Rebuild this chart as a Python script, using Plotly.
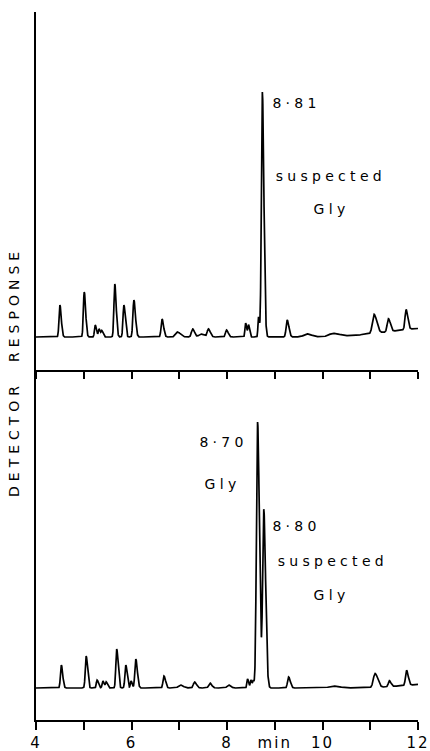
import numpy as np
import plotly.graph_objects as go

# ---- data (retention time in min, peak height in arbitrary units) ----
upper_rt = [4.50, 5.01, 5.24, 5.32, 5.38, 5.65, 5.84, 6.05, 6.64, 6.96, 7.28, 7.45, 7.61, 7.99,
            8.39, 8.45, 8.66, 8.74, 9.26, 9.67, 10.22, 11.08, 11.38, 11.75, 12.30]
upper_h = [32, 45, 12, 8, 6, 53, 32, 37, 18, 5, 8, 3, 8, 7,
           14, 12, 20, 245, 17, 3, 3, 19, 13, 20, 9]
upper_w = [0.018, 0.018, 0.016, 0.016, 0.016, 0.018, 0.018, 0.02, 0.02, 0.04, 0.025, 0.04, 0.025, 0.022,
           0.014, 0.014, 0.012, 0.02, 0.022, 0.06, 0.08, 0.035, 0.025, 0.022, 0.9]

lower_rt = [4.53, 5.05, 5.28, 5.40, 5.47, 5.69, 5.88, 5.99, 6.09, 6.68, 7.02, 7.32, 7.64, 8.03,
            8.43, 8.50, 8.55, 8.64, 8.77, 9.29, 10.22, 11.10, 11.40, 11.76, 12.30]
lower_h = [23, 32, 8, 7, 6, 39, 23, 7, 29, 12, 3, 6, 5, 3,
           9, 8, 7, 266, 178, 11, 2, 14, 6, 15, 4]
lower_w = [0.018, 0.018, 0.016, 0.016, 0.016, 0.018, 0.018, 0.014, 0.02, 0.02, 0.04, 0.025, 0.025, 0.03,
           0.014, 0.014, 0.012, 0.024, 0.024, 0.022, 0.08, 0.035, 0.022, 0.022, 0.6]

x_ticks = [4, 5, 6, 7, 8, 9, 10, 11, 12]
x_tick_text = ["4", "", "6", "", "8", "min", "10", "", "12"]

t = np.linspace(4.0, 12.0, 4001)


def trace_signal(rts, hs, ws):
    y = np.zeros_like(t)
    for rt, h, w in zip(rts, hs, ws):
        s = np.where(t < rt, w, w * 1.6)
        y += h * np.exp(-0.5 * ((t - rt) / s) ** 2)
    return y


fig = go.Figure()
fig.add_trace(go.Scatter(x=t, y=trace_signal(upper_rt, upper_h, upper_w), mode="lines",
                         line=dict(color="black", width=1.7), xaxis="x", yaxis="y",
                         showlegend=False, hoverinfo="skip"))
fig.add_trace(go.Scatter(x=t, y=trace_signal(lower_rt, lower_h, lower_w), mode="lines",
                         line=dict(color="black", width=1.7), xaxis="x2", yaxis="y2",
                         showlegend=False, hoverinfo="skip"))

split = (720 - 370) / 708.0
font = dict(family="DejaVu Sans", size=14, color="black")

axis_common = dict(showline=True, linecolor="black", linewidth=2, showgrid=False, zeroline=False,
                   automargin=False)

fig.update_layout(
    template="none",
    width=430, height=751, autosize=False,
    margin=dict(l=36, r=12, t=12, b=31, pad=0, autoexpand=False),
    paper_bgcolor="white", plot_bgcolor="white",
    font=font,
    xaxis=dict(domain=[0, 1], anchor="y", range=[4, 12], tickvals=x_ticks, ticktext=[""] * 9,
               ticks="outside", ticklen=7, tickwidth=2, tickcolor="black", **axis_common),
    yaxis=dict(domain=[split, 1], anchor="x", range=[-33, 325], showticklabels=False, ticks="",
               **axis_common),
    xaxis2=dict(domain=[0, 1], anchor="y2", range=[4, 12], tickvals=x_ticks, ticktext=x_tick_text,
                ticks="outside", ticklen=8, tickwidth=2, tickcolor="black",
                tickfont=dict(family="DejaVu Sans", size=15, color="black"), **axis_common),
    yaxis2=dict(domain=[0, split], anchor="x2", range=[-32, 318], showticklabels=False, ticks="",
                **axis_common),
)

ann = [
    ("8\u00b781", 9.45, 234, "x", "y"),
    ("suspected", 10.18, 161, "x", "y"),
    ("Gly", 10.19, 128, "x", "y"),
    ("8\u00b770", 7.92, 246, "x2", "y2"),
    ("Gly", 7.91, 204, "x2", "y2"),
    ("8\u00b780", 9.46, 162, "x2", "y2"),
    ("suspected", 10.21, 127, "x2", "y2"),
    ("Gly", 10.19, 93, "x2", "y2"),
]
for text, xv, yv, xr, yr in ann:
    fig.add_annotation(text=text, x=xv, y=yv, xref=xr, yref=yr, showarrow=False,
                       xanchor="center", yanchor="middle", font=font)

fig.add_annotation(text="DETECTOR  RESPONSE", x=(14 - 36) / 382.0, y=(720 - 372) / 708.0,
                   xref="paper", yref="paper", showarrow=False, textangle=-90,
                   xanchor="center", yanchor="middle",
                   font=dict(family="DejaVu Sans", size=14, color="black"))

post = """
document.documentElement.style.margin = '0';
document.documentElement.style.padding = '0';
document.documentElement.style.overflow = 'hidden';
document.body.style.margin = '0';
document.body.style.padding = '0';
document.body.style.overflow = 'hidden';
document.querySelectorAll('.annotation-text').forEach(function(e){
  if (e.textContent.indexOf('DETECTOR') >= 0) { e.style.letterSpacing = '5px'; }
  else { e.style.letterSpacing = '4.3px'; }
});
document.querySelectorAll('.xtick text, .x2tick text').forEach(function(e){ e.style.letterSpacing = '2px'; });
"""

fig.write_html("out.html", post_script=post,
               config={"displayModeBar": False, "responsive": False, "staticPlot": True})
